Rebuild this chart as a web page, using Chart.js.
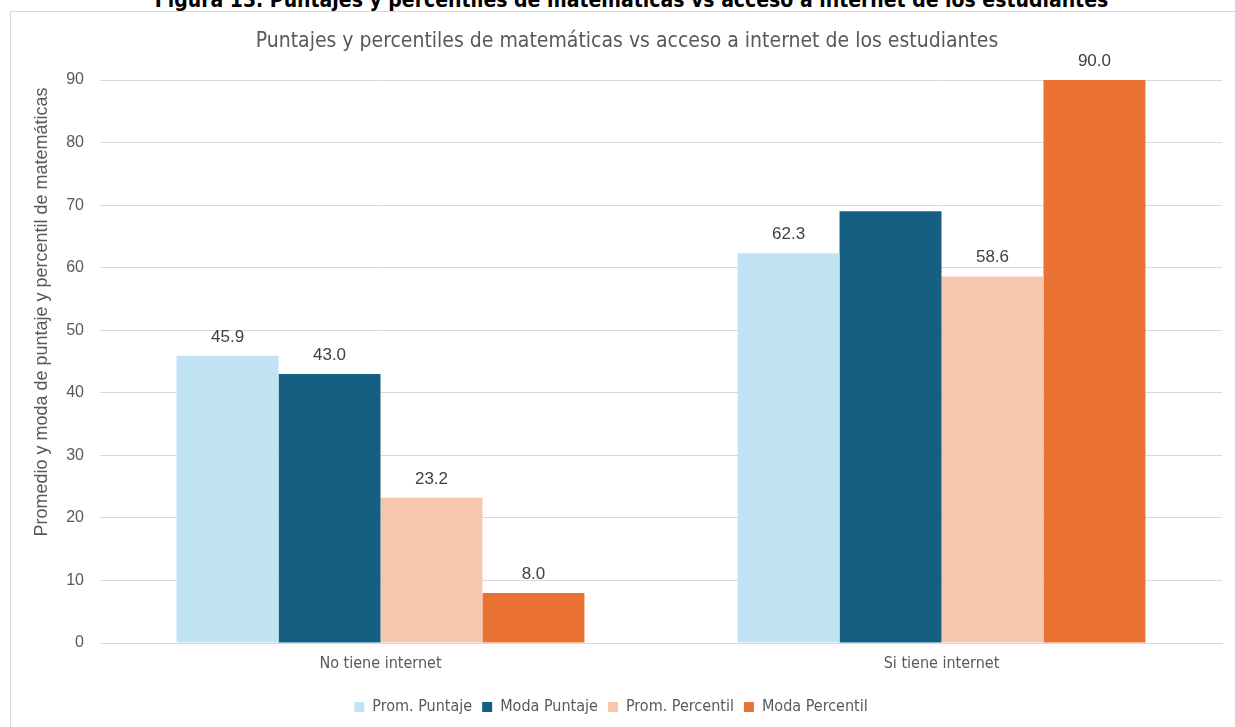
<!DOCTYPE html>
<html>
<head>
<meta charset="utf-8">
<script src="https://cdn.jsdelivr.net/npm/chart.js@4/dist/chart.umd.min.js"></script>
<style>
  html, body { margin: 0; padding: 0; background: #fff; overflow: hidden; }
  body { width: 1235px; height: 727px; position: relative; }
  #fig { position: absolute; left: 14px; top: -12px; width: 1235px; text-align: center;
         font-family: 'Liberation Sans Narrow', 'DejaVu Sans Condensed', sans-serif;
         font-weight: bold; font-size: 21px; color: #000; white-space: nowrap; }
  #frame { position: absolute; left: 10px; top: 11px; width: 1240px; height: 740px;
           border: 1px solid #D9D9D9; box-sizing: border-box; }
  #wrap { position: absolute; left: 0; top: 0; width: 1235px; height: 727px; }
</style>
</head>
<body>
<div id="fig">Figura 13. Puntajes y percentiles de matemáticas vs acceso a internet de los estudiantes</div>
<div id="frame"></div>
<div id="wrap"><canvas id="c" width="1235" height="727"></canvas></div>
<script>
const categories = ['No tiene internet', 'Si tiene internet'];
const seriesNames = ['Prom. Puntaje', 'Moda Puntaje', 'Prom. Percentil', 'Moda Percentil'];
const promPuntaje = [45.9, 62.3];
const modaPuntaje = [43.0, 69.0];
const promPercentil = [23.2, 58.6];
const modaPercentil = [8.0, 90.0];
// which values carry a visible data label in the reference
const promPuntajeLabels = [true, true];
const modaPuntajeLabels = [true, false];
const promPercentilLabels = [true, true];
const modaPercentilLabels = [true, true];
const yTicks = [0, 10, 20, 30, 40, 50, 60, 70, 80, 90];
const chartTitle = 'Puntajes y percentiles de matemáticas vs acceso a internet de los estudiantes';
const yTitle = 'Promedio y moda de puntaje y percentil de matemáticas';

const colors = ['#C1E4F5', '#156082', '#F6C6AD', '#E97132'];
const NARROW = "'Liberation Sans Narrow', 'DejaVu Sans Condensed', sans-serif";
const SANS = "'Liberation Sans', Arial, sans-serif";

const seriesData = [promPuntaje, modaPuntaje, promPercentil, modaPercentil];
const seriesLabels = [promPuntajeLabels, modaPuntajeLabels, promPercentilLabels, modaPercentilLabels];

const decorPlugin = {
  id: 'decor',
  afterDatasetsDraw(chart) {
    const ctx = chart.ctx;
    ctx.save();
    // data labels
    ctx.font = '17px ' + SANS;
    ctx.fillStyle = '#404040';
    ctx.textAlign = 'center';
    ctx.textBaseline = 'middle';
    chart.data.datasets.forEach((ds, di) => {
      const meta = chart.getDatasetMeta(di);
      meta.data.forEach((bar, i) => {
        if (!seriesLabels[di][i]) return;
        ctx.fillText(ds.data[i].toFixed(1), bar.x, bar.y - 19);
      });
    });
    // chart title
    ctx.font = '21px ' + NARROW;
    ctx.fillStyle = '#595959';
    ctx.fillText(chartTitle, 627, 42);
    // y axis title
    ctx.translate(42, 312);
    ctx.rotate(-Math.PI / 2);
    ctx.font = '18px ' + SANS;
    ctx.fillText(yTitle, 0, 0);
    ctx.restore();
  }
};

new Chart(document.getElementById('c'), {
  type: 'bar',
  data: {
    labels: categories,
    datasets: seriesNames.map((n, i) => ({
      label: n,
      data: seriesData[i],
      backgroundColor: colors[i],
      borderWidth: 0,
      categoryPercentage: 0.727,
      barPercentage: 1.0
    }))
  },
  options: {
    responsive: false,
    animation: false,
    layout: { padding: { left: 0, right: 13, top: 80, bottom: 2 } },
    plugins: {
      title: { display: false },
      tooltip: { enabled: false },
      legend: {
        position: 'bottom',
        labels: {
          boxWidth: 10, boxHeight: 10, padding: 10,
          color: '#595959',
          font: { family: NARROW, size: 16 }
        }
      }
    },
    scales: {
      x: {
        grid: { display: false, drawTicks: false },
        border: { display: true, color: '#D9D9D9', width: 1 },
        ticks: { color: '#595959', padding: 11, font: { family: NARROW, size: 16 } },
        afterFit(s) { s.height = 46; }
      },
      y: {
        min: 0, max: 90,
        afterBuildTicks(s) { s.ticks = yTicks.map(v => ({ value: v })); },
        grid: { color: '#D9D9D9', lineWidth: 1, drawTicks: false },
        border: { display: false },
        ticks: { color: '#595959', padding: 16, font: { family: SANS, size: 16 } },
        afterFit(s) { s.width = 100; }
      }
    }
  },
  plugins: [decorPlugin]
});
</script>
</body>
</html>
